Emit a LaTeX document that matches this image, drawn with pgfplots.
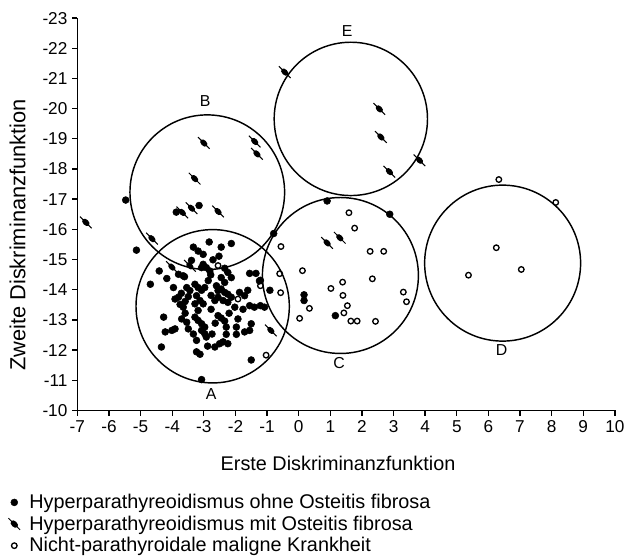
\documentclass[border=0pt]{standalone}
\usepackage{fontspec}
\setmainfont{Liberation Sans}
\usepackage{pgfplots}
\pgfplotsset{compat=1.18}
\pgfdeclareplotmark{osteitis}{%
  \pgfpathellipse{\pgfpointorigin}{\pgfpoint{2.0pt}{-2.0pt}}{\pgfpoint{1.2pt}{1.2pt}}%
  \pgfusepathqfillstroke
  \pgfsetlinewidth{0.8pt}%
  \pgfpathmoveto{\pgfpoint{-4.4pt}{4.4pt}}%
  \pgfpathlineto{\pgfpoint{4.4pt}{-4.4pt}}%
  \pgfusepathqstroke
}
\begin{document}
\begin{tikzpicture}
\begin{axis}[
  x=23.925pt, y=22.83pt,
  y dir=reverse,
  xmin=-7, xmax=10, ymin=-23, ymax=-10,
  axis lines*=left,
  axis line style={line width=1.2pt},
  xtick={-7,...,10}, ytick={-23,...,-10},
  tick align=outside, major tick length=4pt,
  tick style={line width=1pt, black},
  /pgf/number format/assume math mode=true,
  ticklabel style={font=\fontsize{13}{14}\selectfont},
  clip=false,
  xlabel={Erste Diskriminanzfunktion},
  ylabel={Zweite Diskriminanzfunktion},
  xlabel style={font=\fontsize{15}{17}\selectfont, at={(axis description cs:0.485,-0.134)}, anchor=center},
  ylabel style={font=\fontsize{16.5}{18}\selectfont, at={(axis description cs:-0.111,0.447)}, anchor=center},
  legend style={at={(axis description cs:-0.131,-0.203)}, anchor=north west, draw=none, fill=none,
    font=\fontsize{15}{16}\selectfont, row sep=0pt, inner sep=1pt,
    /tikz/every odd column/.append style={column sep=5pt}},
  legend cell align=left,
]
\addplot[only marks, mark=*, mark size=2.6pt, black] coordinates {
(-5.13,-15.31) (-2.83,-15.58) (-2.45,-15.41) (-2.13,-15.53) (-3.33,-15.41)
(-3.18,-15.28) (-3.02,-15.17) (-3.39,-14.97) (-2.52,-15.11) (-3.02,-14.84)
(-2.92,-14.73) (-4.41,-14.62) (-4.17,-14.37) (-4.69,-14.18) (-3.80,-14.51)
(-3.65,-14.46) (-3.07,-14.73) (-2.81,-14.62) (-2.78,-14.49) (-2.34,-14.71)
(-2.24,-14.57) (-2.13,-14.40) (-2.45,-14.40) (-2.34,-14.24) (-1.55,-14.54)
(-1.35,-14.54) (-1.24,-14.29) (-3.54,-14.07) (-3.44,-13.97) (-3.49,-13.77)
(-3.59,-13.61) (-3.75,-13.51) (-3.80,-13.75) (-3.91,-13.69) (-3.28,-14.18)
(-3.18,-14.07) (-3.07,-13.98) (-2.97,-14.07) (-3.23,-13.80) (-3.12,-13.64)
(-3.02,-13.53) (-3.28,-13.53) (-3.18,-13.31) (-2.60,-14.13) (-2.55,-13.97)
(-2.45,-14.02) (-2.34,-13.91) (-2.24,-13.85) (-2.13,-13.75) (-2.55,-13.75)
(-2.65,-13.64) (-2.39,-13.64) (-2.24,-13.58) (-1.87,-13.91) (-1.71,-13.80)
(-1.61,-13.98) (-1.55,-13.47) (-1.40,-13.42) (-2.02,-13.42) (-4.27,-13.09)
(-4.01,-12.65) (-4.22,-12.60) (-3.91,-12.70) (-4.34,-12.10) (-3.70,-13.03)
(-3.54,-12.92) (-3.59,-13.22) (-3.49,-12.70) (-3.28,-13.09) (-3.18,-12.98)
(-3.07,-12.87) (-2.97,-12.76) (-3.07,-12.65) (-2.97,-12.54) (-2.92,-12.43)
(-3.23,-12.32) (-3.23,-11.94) (-3.12,-11.86) (-2.88,-12.13) (-2.65,-12.10)
(-2.50,-12.21) (-2.39,-12.27) (-2.24,-12.21) (-2.55,-13.14) (-2.45,-13.06)
(-2.34,-12.96) (-2.29,-12.76) (-1.97,-12.76) (-1.92,-13.03) (-2.29,-12.52)
(-1.97,-12.52) (-1.71,-12.60) (-1.55,-12.65) (-1.50,-12.87) (-1.50,-11.67)
(-3.07,-11.02) (-3.61,-14.43) (-2.86,-14.30) (-2.71,-14.99) (-3.96,-14.07)
(-3.71,-13.88) (-2.77,-13.81) (-2.77,-13.35) (-2.64,-12.89) (-3.33,-12.53)
(-3.65,-13.42) (-1.76,-13.35) (-2.20,-13.22) (-2.74,-12.53)
(-5.47,-16.97) (-3.87,-16.57) (-3.15,-16.79) (-0.79,-15.86) (0.90,-16.94)
(2.88,-16.50) (0.17,-13.83) (0.17,-13.64) (1.16,-13.14) (-0.91,-13.98)
(-1.21,-14.31) (-1.21,-13.47) (-1.08,-13.42)
};
\addlegendentry{Hyperparathyreoidismus ohne Osteitis fibrosa}
\addplot[only marks, mark=osteitis, black, line width=0.9pt] coordinates {
(-6.73,-16.23) (-4.64,-15.69) (-3.00,-18.86) (-1.39,-18.91) (-1.32,-18.50)
(-3.29,-17.68) (-3.68,-16.56) (-3.39,-16.70) (-2.55,-16.59) (-4.01,-14.75)
(-3.44,-14.79) (-0.88,-12.65) (0.90,-15.55) (1.30,-15.72) (-0.44,-21.21)
(2.55,-19.99) (2.60,-19.06) (2.87,-17.91) (3.82,-18.29)
};
\addlegendentry{Hyperparathyreoidismus mit Osteitis fibrosa}
\addplot[only marks, mark=o, mark size=2.1pt, black, line width=1pt] coordinates {
(1.59,-16.55) (1.77,-16.04) (-0.56,-15.43) (2.26,-15.27) (2.69,-15.27)
(0.12,-14.63) (-0.60,-14.53) (2.33,-14.36) (1.39,-14.25) (1.02,-14.04)
(-1.21,-14.13) (-0.57,-13.90) (1.40,-13.81) (3.31,-13.92) (3.41,-13.60)
(0.34,-13.38) (1.54,-13.47) (1.43,-13.23) (0.03,-13.05) (1.65,-12.96)
(1.85,-12.96) (2.43,-12.95) (-1.03,-11.83) (-2.55,-14.80) (-1.92,-13.69)
(6.33,-17.65) (8.13,-16.89) (6.25,-15.39) (7.04,-14.67) (5.37,-14.48)
};
\addlegendentry{Nicht-parathyroidale maligne Krankheit}
\draw[line width=1.1pt] (axis cs:-2.72,-13.45) circle [radius=58pt];
\draw[line width=1.1pt] (axis cs:-2.89,-17.23) circle [radius=58.5pt];
\draw[line width=1.1pt] (axis cs:1.32,-14.47) circle [radius=59pt];
\draw[line width=1.1pt] (axis cs:6.45,-14.88) circle [radius=59pt];
\draw[line width=1.1pt] (axis cs:1.65,-19.66) circle [radius=58pt];
\node[font=\fontsize{12}{13}\selectfont] at (axis cs:-2.77,-10.53) {A};
\node[font=\fontsize{12}{13}\selectfont] at (axis cs:-2.96,-20.25) {B};
\node[font=\fontsize{12}{13}\selectfont] at (axis cs:1.28,-11.58) {C};
\node[font=\fontsize{12}{13}\selectfont] at (axis cs:6.42,-12.00) {D};
\node[font=\fontsize{12}{13}\selectfont] at (axis cs:1.53,-22.58) {E};
\coordinate (bbsw) at (axis cs:-9.445,-5.204);
\coordinate (bbne) at (axis cs:10.32,-23.60);
\end{axis}
\pgfresetboundingbox
\path[use as bounding box] (bbsw) rectangle (bbne);
\end{tikzpicture}
\end{document}
